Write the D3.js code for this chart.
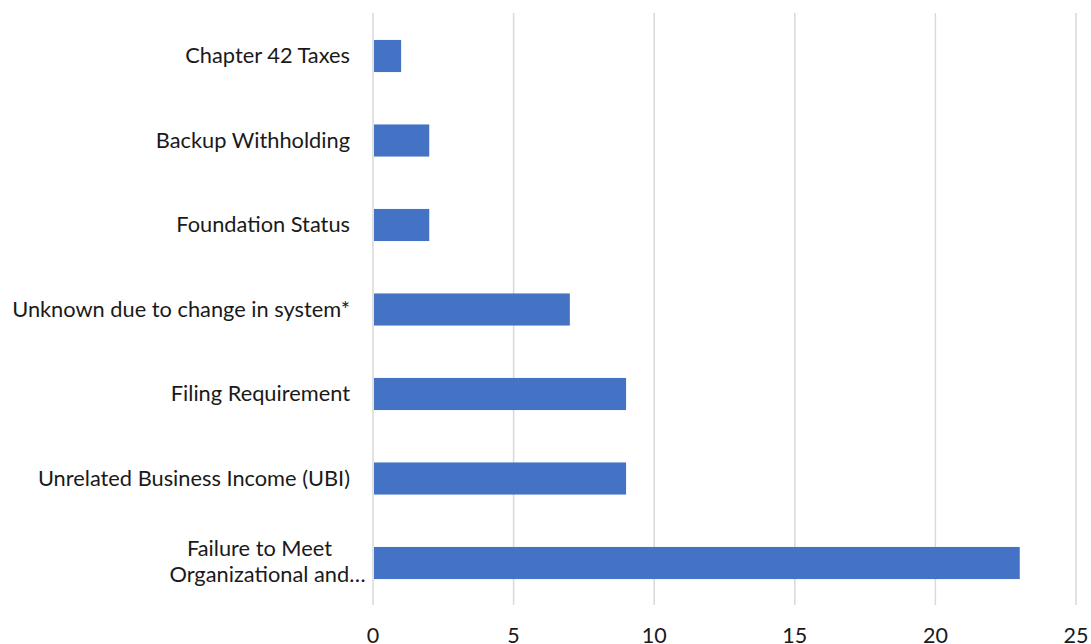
<!DOCTYPE html>
<html>
<head>
<meta charset="utf-8">
<script src="https://cdn.jsdelivr.net/npm/d3@7"></script>
<style>
  html, body { margin: 0; padding: 0; background: #fff; }
  svg { display: block; }
  text { font-family: Lato, "Open Sans", sans-serif; fill: #1a1a1a; }
</style>
</head>
<body>
<svg id="chart" width="1091" height="644"></svg>
<script>
const categories = [
  "Chapter 42 Taxes",
  "Backup Withholding",
  "Foundation Status",
  "Unknown due to change in system*",
  "Filing Requirement",
  "Unrelated Business Income (UBI)",
  "Failure to Meet Organizational and…"
];
const values = [1, 2, 2, 7, 9, 9, 23];
const xTicks = [0, 5, 10, 15, 20, 25];

const svg = d3.select("#chart");
const x = d3.scaleLinear().domain([0, 25]).range([373, 1076]);
const y = d3.scaleBand().domain(categories).range([13.75, 605.25]).paddingInner(0.62).paddingOuter(0.31);

// gridlines
svg.append("g").selectAll("line").data(xTicks).join("line")
  .attr("x1", d => x(d)).attr("x2", d => x(d))
  .attr("y1", 13).attr("y2", 605)
  .attr("stroke", "#d9d9d9").attr("stroke-width", 1.5);

// bars
svg.append("g").selectAll("rect").data(values).join("rect")
  .attr("x", x(0) + 1)
  .attr("y", (d, i) => y(categories[i]))
  .attr("width", d => x(d) - x(0) - 1)
  .attr("height", y.bandwidth())
  .attr("fill", "#4472C4");

// x tick labels (cut off at the bottom edge as in the reference)
svg.append("g").selectAll("text").data(xTicks).join("text")
  .attr("x", d => x(d)).attr("y", 643)
  .attr("text-anchor", "middle")
  .attr("font-size", 21.5)
  .text(d => d);

// category labels
const FS = 21.8;
const labelG = svg.append("g");
categories.forEach((c, i) => {
  const cy = y(c) + y.bandwidth() / 2 - 1.5;
  if (c.startsWith("Failure")) {
    const lines = ["Failure to Meet", "Organizational and…"];
    const centers = [259.5, 267.5];
    const offs = [-14, 12];
    lines.forEach((l, k) => {
      labelG.append("text")
        .attr("x", centers[k]).attr("y", cy + offs[k])
        .attr("text-anchor", "middle")
        .attr("font-size", FS)
        .attr("dominant-baseline", "central")
        .text(l);
    });
  } else {
    labelG.append("text")
      .attr("x", 350).attr("y", cy)
      .attr("text-anchor", "end")
      .attr("font-size", FS)
      .attr("dominant-baseline", "central")
      .text(c);
  }
});
</script>
</body>
</html>
